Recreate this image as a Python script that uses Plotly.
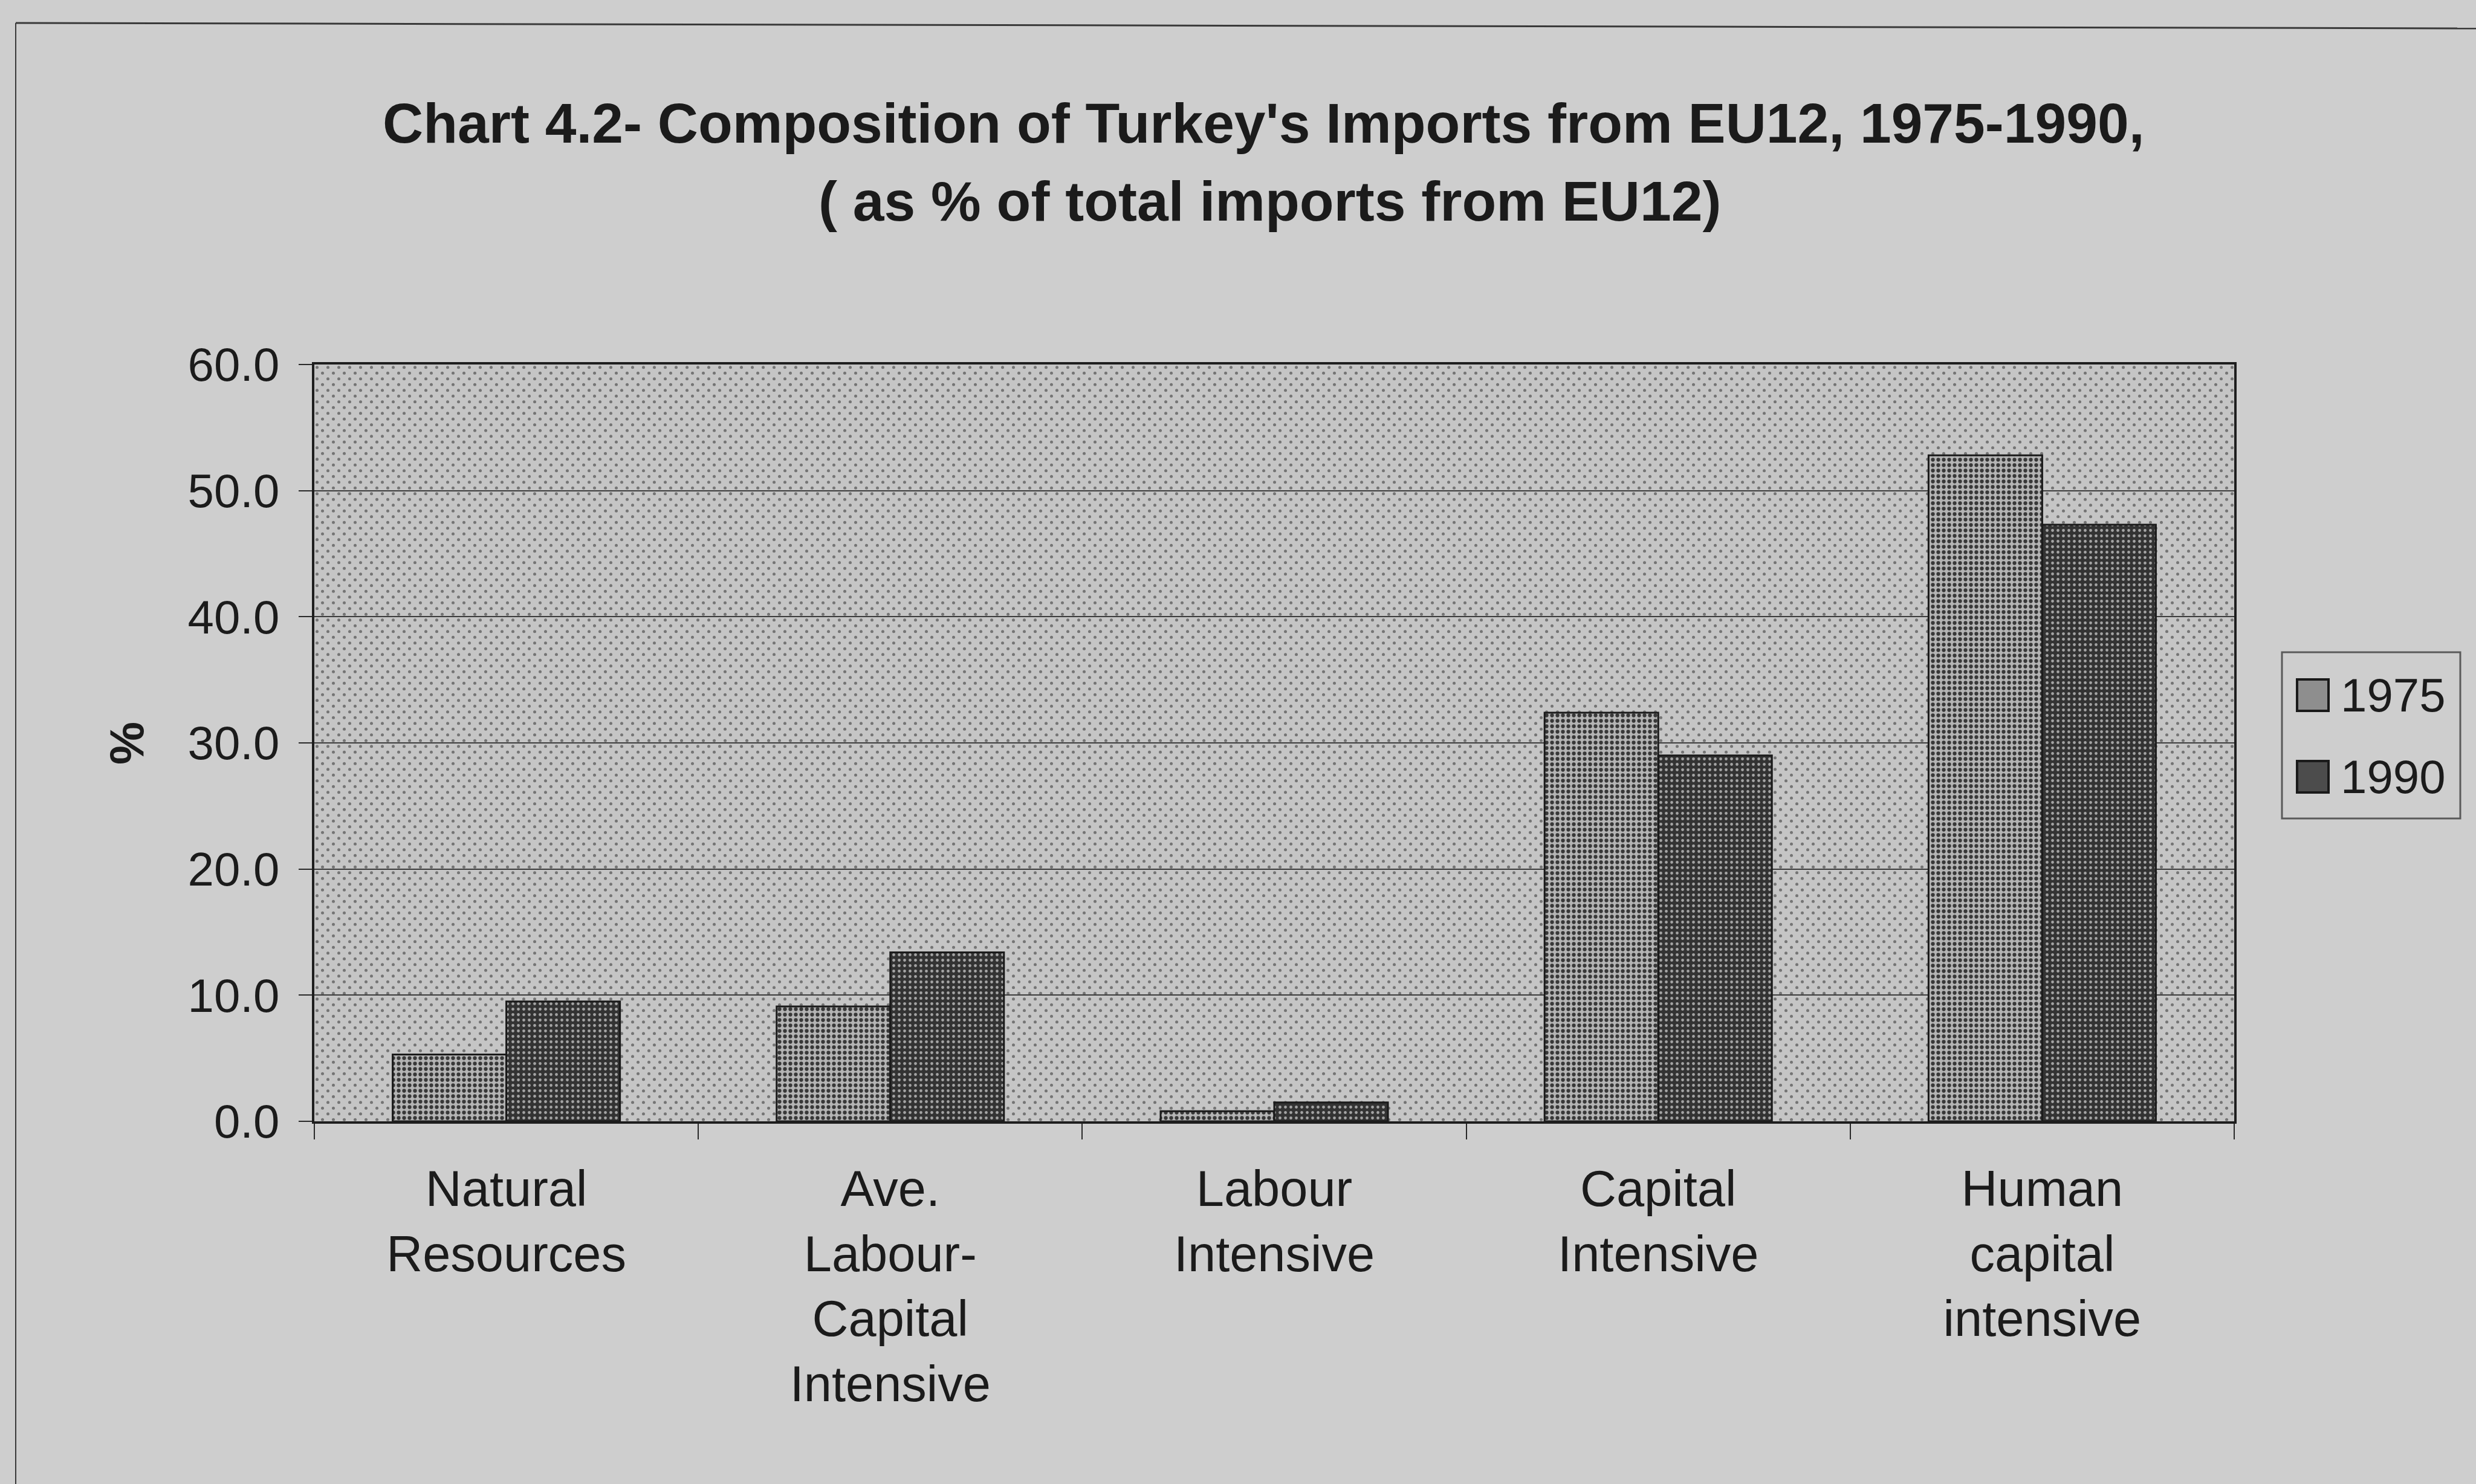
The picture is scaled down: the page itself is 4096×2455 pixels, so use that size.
import base64
import plotly.graph_objects as go

# ---- data -------------------------------------------------------------
categories = [
    "Natural<br>Resources",
    "Ave.<br>Labour-<br>Capital<br>Intensive",
    "Labour<br>Intensive",
    "Capital<br>Intensive",
    "Human<br>capital<br>intensive",
]
share_1975 = [5.3, 9.1, 0.8, 32.4, 52.8]
share_1990 = [9.5, 13.4, 1.5, 29.0, 47.3]
years = ["1975", "1990"]
y_ticks = [0, 10, 20, 30, 40, 50, 60]

# ---- page geometry ------------------------------------------------------
W, H = 4096, 2455
L, R, T, B = 520, 400, 603, 600
PW, PH = W - L - R, H - T - B


def px_x(px):
    return (px - L) / PW


def px_y(py):
    return (H - B - py) / PH


FONT = "Liberation Sans, Arial, sans-serif"
INK = "#1b1b1b"
PAGE = "#cecece"

# dotted screen for the plotting area
dots_svg = (
    f'<svg xmlns="http://www.w3.org/2000/svg" width="{PW}" height="{PH}" '
    f'viewBox="0 0 {PW} {PH}" preserveAspectRatio="none">'
    '<defs><pattern id="d" width="18" height="19" patternUnits="userSpaceOnUse">'
    '<circle cx="4.5" cy="4.75" r="2.5" fill="#747474"/>'
    '<circle cx="13.5" cy="14.25" r="2.5" fill="#747474"/>'
    '</pattern></defs><rect width="100%" height="100%" fill="url(#d)"/></svg>'
)
dots_src = "data:image/svg+xml;base64," + base64.b64encode(dots_svg.encode()).decode()

styles = {
    "1975": dict(bg="#b4b4b4", fg="#383838", solidity=0.38, swatch="#8e8e8e"),
    "1990": dict(bg="#333333", fg="#a4a4a4", solidity=0.22, swatch="#4c4c4c"),
}

fig = go.Figure()
for year, values in zip(years, [share_1975, share_1990]):
    st = styles[year]
    fig.add_trace(go.Bar(
        name=year,
        x=categories,
        y=values,
        marker=dict(
            color=st["bg"],
            line=dict(color="#1a1a1a", width=3),
            pattern=dict(shape=".", bgcolor=st["bg"], fgcolor=st["fg"],
                         size=9, solidity=st["solidity"], fillmode="replace"),
        ),
        showlegend=False,
    ))

shapes = []
annotations = []

# outer frame (top and left edges)
shapes.append(dict(type="line", xref="paper", yref="paper",
                   x0=px_x(26), y0=px_y(38), x1=px_x(W + 5), y1=px_y(47),
                   line=dict(color="#3a3a3a", width=3)))
shapes.append(dict(type="line", xref="paper", yref="paper",
                   x0=px_x(26), y0=px_y(38), x1=px_x(26), y1=px_y(H + 5),
                   line=dict(color="#3a3a3a", width=2)))

# legend box
shapes.append(dict(type="rect", xref="paper", yref="paper",
                   x0=px_x(3775), x1=px_x(4070), y0=px_y(1354), y1=px_y(1079),
                   line=dict(color="#5a5a5a", width=3), fillcolor=PAGE, layer="above"))
legend_rows = [1150, 1285]
for year, yc in zip(years, legend_rows):
    shapes.append(dict(type="rect", xref="paper", yref="paper",
                       x0=px_x(3800), x1=px_x(3852), y0=px_y(yc + 26), y1=px_y(yc - 26),
                       line=dict(color="#1a1a1a", width=4),
                       fillcolor=styles[year]["swatch"], layer="above"))
    annotations.append(dict(text=year, xref="paper", yref="paper",
                            x=px_x(3870), y=px_y(yc), xanchor="left", yanchor="middle",
                            showarrow=False, font=dict(family=FONT, size=78, color=INK)))

# title lines
annotations.append(dict(
    text="<b>Chart 4.2- Composition of Turkey's Imports from EU12, 1975-1990,</b>",
    xref="paper", yref="paper", x=px_x(2090), y=px_y(204),
    xanchor="center", yanchor="middle", showarrow=False,
    font=dict(family=FONT, size=93, color=INK)))
annotations.append(dict(
    text="<b>( as % of total imports from EU12)</b>",
    xref="paper", yref="paper", x=px_x(2100), y=px_y(333),
    xanchor="center", yanchor="middle", showarrow=False,
    font=dict(family=FONT, size=93, color=INK)))

# y-axis title
annotations.append(dict(
    text="<b>%</b>", xref="paper", yref="paper", x=px_x(209), y=px_y(1230),
    xanchor="center", yanchor="middle", textangle=-90, showarrow=False,
    font=dict(family=FONT, size=80, color=INK)))

fig.update_layout(
    width=W, height=H,
    margin=dict(l=L, r=R, t=T, b=B, autoexpand=False),
    paper_bgcolor=PAGE,
    plot_bgcolor="#c5c5c5",
    barmode="group",
    bargap=0.408,
    bargroupgap=0,
    showlegend=False,
    font=dict(family=FONT, color=INK),
    shapes=shapes,
    annotations=annotations,
    images=[dict(source=dots_src, xref="paper", yref="paper", x=0, y=1,
                 sizex=1, sizey=1, sizing="stretch", xanchor="left", yanchor="top",
                 layer="below")],
)

fig.update_xaxes(
    type="category",
    showline=True, linecolor="#1e1e1e", linewidth=4, mirror=True,
    ticks="outside", tickson="boundaries", ticklen=26, tickwidth=2, tickcolor="#2a2a2a",
    tickfont=dict(family=FONT, size=83, color=INK),
    ticklabelstandoff=36,
    showgrid=False,
)
fig.update_yaxes(
    range=[0, 60], tickvals=y_ticks, tickformat=".1f",
    showline=True, linecolor="#1e1e1e", linewidth=4, mirror=True,
    ticks="outside", ticklen=22, tickwidth=2, tickcolor="#2a2a2a",
    tickfont=dict(family=FONT, size=78, color=INK),
    ticklabelstandoff=16,
    showgrid=True, gridcolor="#3c3c3c", gridwidth=2, zeroline=False,
)

fig.write_html("out.html")
